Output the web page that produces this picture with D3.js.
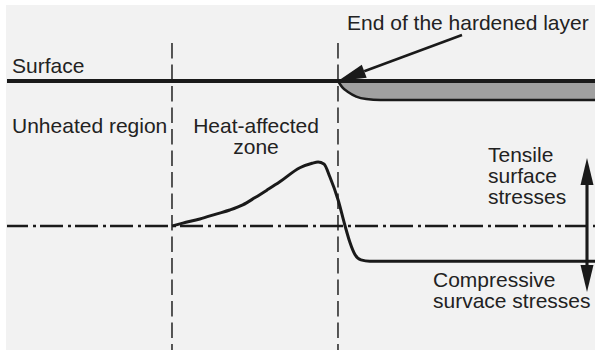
<!DOCTYPE html>
<html>
<head>
<meta charset="utf-8">
<script src="https://cdn.jsdelivr.net/npm/d3@7"></script>
<style>
  html, body { margin: 0; padding: 0; background: #ffffff; }
  svg { display: block; }
  text { font-family: "Liberation Sans", Arial, sans-serif; font-size: 21px; fill: #222222; }
</style>
</head>
<body>
<svg id="chart" width="595" height="350"></svg>
<script>
// Residual stress profile along the depth (position 0..100 across the section)
const depth  = [28.06, 29.9, 32.8, 35.7, 37.9, 40.1, 42.2, 44.2, 46.4, 49.8, 51.9, 52.9, 53.9, 54.9, 56.3, 57.5, 58.3, 59.2, 60.2, 61.7, 100];
const stress = [0, 0.045, 0.11, 0.19, 0.25, 0.33, 0.445, 0.56, 0.69, 0.91, 0.98, 1.0, 0.97, 0.77, 0.41, 0, -0.25, -0.45, -0.53, -0.55, -0.55];

// Zone boundaries (same position units)
const boundaries = [28.06, 56.29];

// Hardened layer thickness along the position (0..1 of full thickness)
const layerPos   = [56.29, 57.0, 58.0, 59.4, 61.1, 63.5, 100];
const layerDepth = [0, 0.32, 0.58, 0.82, 0.95, 1.0, 1.0];

const svg = d3.select("#chart");
const W = 595, H = 350;

const x = d3.scaleLinear().domain([0, 100]).range([7, 595]);
const y = d3.scaleLinear().domain([-1, 1]).range([290, 162]);   // stress
const ySec = d3.scaleLinear().domain([0, 1]).range([81, 100]);  // section depth

// panel background
svg.append("rect").attr("x", 6).attr("y", 5).attr("width", W - 6).attr("height", H - 5).attr("fill", "#f2f2f2");

// hardened layer
const layer = layerPos.map((p, i) => [p, layerDepth[i]]);
svg.append("path")
  .datum(layer)
  .attr("d", d3.area().x(d => x(d[0])).y0(ySec(0)).y1(d => ySec(d[1])).curve(d3.curveMonotoneX))
  .attr("fill", "#a0a0a0");
svg.append("path")
  .datum(layer)
  .attr("d", d3.line().x(d => x(d[0])).y(d => ySec(d[1])).curve(d3.curveMonotoneX))
  .attr("fill", "none").attr("stroke", "#1a1a1a").attr("stroke-width", 2.5);

// zone boundaries
svg.selectAll("line.bound").data(boundaries).join("line")
  .attr("class", "bound")
  .attr("x1", d => x(d)).attr("x2", d => x(d))
  .attr("y1", 43).attr("y2", H)
  .attr("stroke", "#222").attr("stroke-width", 1.5)
  .attr("stroke-dasharray", "15.5,6");

// surface
svg.append("line")
  .attr("x1", x(0)).attr("x2", x(100)).attr("y1", ySec(0)).attr("y2", ySec(0))
  .attr("stroke", "#1a1a1a").attr("stroke-width", 4);

// zero-stress axis
svg.append("line")
  .attr("x1", x(0)).attr("x2", x(100)).attr("y1", y(0)).attr("y2", y(0))
  .attr("stroke", "#1a1a1a").attr("stroke-width", 2.5)
  .attr("stroke-dasharray", "23,5,3,4").attr("stroke-dashoffset", 2);

// stress curve
svg.append("path")
  .datum(depth.map((d, i) => [d, stress[i]]))
  .attr("d", d3.line().x(d => x(d[0])).y(d => y(d[1])).curve(d3.curveMonotoneX))
  .attr("fill", "none").attr("stroke", "#1a1a1a").attr("stroke-width", 3)
  .attr("stroke-linejoin", "round");

// arrow helper: line with filled triangular head at (x2,y2)
function arrow(x1, y1, x2, y2, len, half) {
  const dx = x2 - x1, dy = y2 - y1, L = Math.hypot(dx, dy);
  const ux = dx / L, uy = dy / L;
  const bx = x2 - ux * len, by = y2 - uy * len;
  svg.append("line").attr("x1", x1).attr("y1", y1).attr("x2", bx).attr("y2", by)
    .attr("stroke", "#1a1a1a").attr("stroke-width", 2.5);
  svg.append("path")
    .attr("d", `M${x2},${y2}L${bx - uy * half},${by + ux * half}L${bx + uy * half},${by - ux * half}Z`)
    .attr("fill", "#1a1a1a");
}

// pointer to the end of the hardened layer
arrow(462, 35, x(boundaries[1]), ySec(0), 28, 7);

// tensile / compressive double arrow
const ax = 587;
svg.append("line").attr("x1", ax).attr("x2", ax).attr("y1", 180).attr("y2", 270)
  .attr("stroke", "#1a1a1a").attr("stroke-width", 2.8);
arrow(ax, 226, ax, 158, 27, 6.5);
arrow(ax, 226, ax, 292, 27, 6.5);

// labels (multi-line labels are one text element with stacked tspans)
function label(lines, tx, ty, lineGap, anchor) {
  const t = svg.append("text").attr("x", tx).attr("y", ty).attr("text-anchor", anchor || "start");
  [].concat(lines).forEach((s, i) => {
    t.append("tspan").attr("x", tx).attr("y", ty + i * (lineGap || 0)).text(s);
  });
}
label("End of the hardened layer", 347, 30);
label("Surface", 12, 73);
label("Unheated region", 12, 133);
label(["Heat-affected", "zone"], 256, 133, 21, "middle");
label(["Tensile", "surface", "stresses"], 488, 162, 21);
label(["Compressive", "survace stresses"], 433, 287, 21);
</script>
</body>
</html>
